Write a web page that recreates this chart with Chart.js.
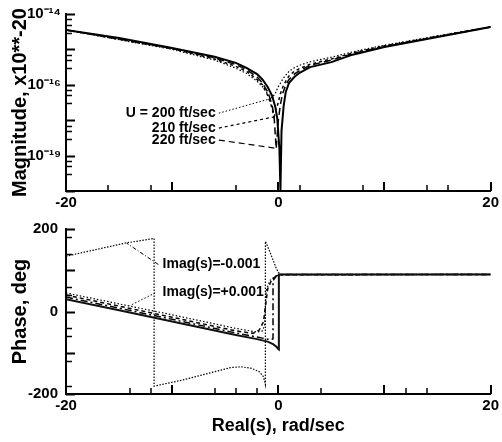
<!DOCTYPE html>
<html><head><meta charset="utf-8">
<script src="https://cdn.jsdelivr.net/npm/chart.js@4.4.1/dist/chart.umd.min.js"></script>
<style>
html,body{margin:0;padding:0;background:#fff;width:502px;height:442px;overflow:hidden}
canvas{position:absolute;left:0}
#c1{top:0}
#c2{top:212px}
</style></head><body>
<canvas id="c1" width="502" height="212"></canvas>
<canvas id="c2" width="502" height="230"></canvas>
<script>
// ---------- Magnitude panel data (Real(s) vs magnitude) ----------
const magSolidX = [-20,-15,-10,-6,-4,-3,-2,-1.5,-1,-0.6,-0.3,-0.1,0.1,0.2,0.3,0.5,0.7,1,1.5,2,3,5,7,10,15,20];
const magSolidY = [3.55e-15,2.09e-15,1.1e-15,6.17e-16,4.17e-16,3.02e-16,2.0e-16,1.41e-16,8.7e-17,5.0e-17,2.5e-17,1.12e-17,1.58e-18,1e-19,5.0e-18,2.5e-17,6.3e-17,1.12e-16,1.66e-16,2.19e-16,3.16e-16,4.37e-16,7.1e-16,1.17e-15,2.24e-15,4.27e-15];
const magU220X = [-20,-10,-6,-4,-3,-2,-1.5,-1,-0.6,-0.4,-0.2,0,0.2,0.4,0.7,1,1.5,2,3,5,7,10,15,20];
const magU220Y = [3.55e-15,1.07e-15,5.75e-16,3.72e-16,2.69e-16,1.66e-16,1.12e-16,6.3e-17,2.82e-17,1.26e-17,1.58e-18,1.0e-17,2.82e-17,5.6e-17,1.0e-16,1.41e-16,2.0e-16,2.51e-16,3.55e-16,5.0e-16,7.6e-16,1.2e-15,2.29e-15,4.27e-15];
const magU210X = [-20,-10,-6,-4,-3,-2,-1.5,-1,-0.7,-0.4,-0.1,0.2,0.5,1,1.5,2,3,5,7,10,15,20];
const magU210Y = [3.55e-15,1.05e-15,5.37e-16,3.31e-16,2.4e-16,1.41e-16,1.0e-16,5.0e-17,2.82e-17,1.26e-17,2.51e-17,5.62e-17,1.0e-16,1.78e-16,2.4e-16,2.88e-16,3.8e-16,5.37e-16,7.94e-16,1.26e-15,2.34e-15,4.37e-15];
const magU200X = [-20,-10,-6,-4,-3,-2,-1.5,-1,-0.6,-0.3,0,0.5,1,1.5,2,3,5,7,10,15,20];
const magU200Y = [3.55e-15,1.0e-15,5.0e-16,2.95e-16,2.09e-16,1.26e-16,8.9e-17,5.6e-17,4.27e-17,5.6e-17,8.9e-17,1.58e-16,2.4e-16,3.02e-16,3.55e-16,4.47e-16,6.03e-16,8.5e-16,1.32e-15,2.4e-15,4.37e-15];

const magLabelText = ["U = 200 ft/sec","210 ft/sec","220 ft/sec"];
const magLabelX = [-5.9,-5.9,-5.9];
const magLabelY = [1.58e-17,6.0e-18,2.75e-18];
const magLeader200X = [-5.6,-0.47], magLeader200Y = [1.58e-17,4.27e-17];
const magLeader210X = [-5.6,-0.28], magLeader210Y = [6.0e-18,1.26e-17];
const magLeader220X = [-5.6,-0.28], magLeader220Y = [2.75e-18,1.62e-18];

const magTickValues = [1e-14,1e-16,1e-18];
const magTickLabels = ["10\u207B\u00B9\u2074","10\u207B\u00B9\u2076","10\u207B\u00B9\u2079"];
const magMajorTicks = [1e-14,1e-15,1e-16,1e-17,1e-18,1e-19];
const magMinorTicks = [7e-15,5e-15,3e-15,7e-16,5e-16,3e-16,7e-17,5e-17,3e-17,7e-18,5e-18,3e-18,7e-19,5e-19,3e-19];

// ---------- Phase panel data ----------
const phSolidX = [-20,-15,-10,-6,-4,-2,-1,-0.5,-0.2,0,0.05,0.05,20];
const phSolidY = [30,3,-24,-46,-57,-67,-73,-79,-85,-91,-92,90,90];
const ph220X = [-20,-10,-4,-2,-1,-0.6,-0.5,-0.5,-0.2,0.2,20];
const ph220Y = [35,-19,-52,-62,-67,-67,-66,75,86,90,90];
const ph210X = [-20,-10,-4,-2.4,-1.8,-1.4,-1.2,-1.0,-0.6,0,20];
const ph210Y = [40,-14,-47,-53,-45,-25,15,55,78,89,90];
const ph200X = [-20,-10,-4,-2,-1.5,-1.3,-1.25,-1.15,-0.8,-0.3,0,20];
const ph200Y = [45,-8,-41,-50,-47,-35,-10,50,75,85,89,90];
const phNegX = [-20,-14.4,-11.7,-11.7,-9,-6,-4.5,-3.5,-2.5,-1.8,-1.4,-1.22,-1.22,-0.8,-0.5,-0.2,0,0.2,20];
const phNegY = [134,166,177,-181,-166,-146,-136,-134,-138,-146,-158,-177,170,145,125,105,95,90,90];

const phLabelText = ["Imag(s)=-0.001","Imag(s)=+0.001"];
const phLabelX = [-10.9,-10.9];
const phLabelY = [114,48];
const phLeaderNegX = [-11.3,-14.3], phLeaderNegY = [114,166];
const phLeaderPosX = [-11.6,-14.0], phLeaderPosY = [45,14];

const phTickValues = [200,0,-200];
const phTickLabels = ["200","0","-200"];
const phMajorTicks = [200,100,0,-100,-200];
const phMinorTicks = [180,140,60,40,-40,-60,-120,-180];

const xTickValues = [-20,0,20];
const xTickLabels = ["-20","0","20"];
const xMajorTicks = [-20,-10,0,10,20];
const xMinorTopTicks = [-16,-12,-4,2,8,14,16];
const xMinorBotTicks = [-14,-12,-6,-4,-2,4,12,14];

// ---------- helpers ----------
const pts = (xs, ys) => xs.map((x, i) => ({x: x, y: ys[i]}));
const FONT = "'Liberation Sans', Arial, sans-serif";

function line(xs, ys, width, dash, color) {
  return {data: pts(xs, ys), borderColor: color || '#000', borderWidth: width,
          borderDash: dash || [], pointRadius: 0, fill: false, tension: 0};
}

const inTicks = {
  id: 'inTicks',
  afterDraw(chart, args, o) {
    const {ctx, chartArea: a, scales: {x, y}} = chart;
    ctx.save();
    ctx.strokeStyle = '#000';
    const draw = (vals, len, w, axis) => {
      ctx.lineWidth = w;
      vals.forEach(v => {
        ctx.beginPath();
        if (axis === 'x') {
          const p = Math.round(x.getPixelForValue(v));
          ctx.moveTo(p, a.bottom); ctx.lineTo(p, a.bottom - len);
        } else {
          const p = Math.round(y.getPixelForValue(v)) + 0.5;
          ctx.moveTo(a.left, p); ctx.lineTo(a.left + len, p);
        }
        ctx.stroke();
      });
    };
    draw(o.xMajor, 9, 2, 'x');
    draw(o.xMinor, 6, 1.5, 'x');
    draw(o.yMajor, 9, 2, 'y');
    draw(o.yMinor, 6, 1.5, 'y');
    ctx.restore();
  }
};

const notes = {
  id: 'notes',
  afterDatasetsDraw(chart, args, o) {
    const {ctx, scales: {x, y}} = chart;
    ctx.save();
    ctx.font = 'bold 14px ' + FONT;
    ctx.fillStyle = '#000';
    ctx.textBaseline = 'middle';
    o.items.forEach(it => {
      ctx.textAlign = it.align;
      ctx.fillText(it.text, x.getPixelForValue(it.x), y.getPixelForValue(it.y));
    });
    ctx.restore();
  }
};

function xScale(height, titleText) {
  return {
    type: 'linear', min: -20, max: 20,
    afterFit: s => { s.height = height; },
    afterBuildTicks: s => { s.ticks = xTickValues.map(v => ({value: v})); },
    grid: {display: false, drawTicks: false},
    border: {display: true, width: 2, color: '#000'},
    ticks: {color: '#000', padding: 3, maxRotation: 0, autoSkip: false,
            font: {family: FONT, size: 15, weight: 'bold'},
            callback: v => xTickLabels[xTickValues.indexOf(v)]},
    title: titleText ? {display: true, text: titleText, color: '#000',
            font: {family: FONT, size: 18, weight: 'bold'}, padding: {top: 0, bottom: 5}} : {display: false}
  };
}

// ---------- Chart 1: magnitude ----------
new Chart(document.getElementById('c1'), {
  type: 'line',
  data: {datasets: [
    line(magSolidX, magSolidY, 2),
    line(magU220X, magU220Y, 1.5, [7, 4]),
    line(magU210X, magU210Y, 1.5, [3, 3]),
    line(magU200X, magU200Y, 1.2, [1.5, 2]),
    line(magLeader200X, magLeader200Y, 1, [1.5, 2]),
    line(magLeader210X, magLeader210Y, 1.2, [3, 3]),
    line(magLeader220X, magLeader220Y, 1.2, [6, 4])
  ]},
  options: {
    responsive: false, animation: false, devicePixelRatio: 1,
    layout: {padding: {left: 0, right: 8, top: 14, bottom: 0}},
    plugins: {legend: {display: false}, tooltip: {enabled: false},
      inTicks: {xMajor: xMajorTicks, xMinor: xMinorTopTicks, yMajor: magMajorTicks, yMinor: magMinorTicks},
      notes: {items: magLabelText.map((t, i) => ({text: t, x: magLabelX[i], y: magLabelY[i], align: 'right'}))}
    },
    scales: {
      x: xScale(21, null),
      y: {
        type: 'logarithmic', min: 1e-19, max: 1e-14,
        afterFit: s => { s.width = 66; },
        afterBuildTicks: s => { s.ticks = magTickValues.map(v => ({value: v})); },
        grid: {display: false, drawTicks: false},
        border: {display: true, width: 2, color: '#000'},
        ticks: {color: '#000', padding: 5, autoSkip: false,
                font: {family: FONT, size: 15, weight: 'bold'},
                callback: v => magTickLabels[magTickValues.indexOf(v)]},
        title: {display: true, text: 'Magnitude, x10**-20', color: '#000',
                font: {family: FONT, size: 20, weight: 'bold'}, padding: {top: 8, bottom: 0}}
      }
    }
  },
  plugins: [inTicks, notes]
});

// ---------- Chart 2: phase ----------
new Chart(document.getElementById('c2'), {
  type: 'line',
  data: {datasets: [
    line(phSolidX, phSolidY, 2, [], '#111'),
    line(ph220X, ph220Y, 1.5, [7, 3, 2, 3]),
    line(ph210X, ph210Y, 1.5, [4, 3]),
    line(ph200X, ph200Y, 1.2, [1.5, 2]),
    line(phNegX, phNegY, 1.2, [1.5, 1.5]),
    line(phLeaderNegX, phLeaderNegY, 1, [4, 2, 1, 2]),
    line(phLeaderPosX, phLeaderPosY, 1, [1.5, 2])
  ]},
  options: {
    responsive: false, animation: false, devicePixelRatio: 1,
    layout: {padding: {left: 0, right: 8, top: 6, bottom: 0}},
    plugins: {legend: {display: false}, tooltip: {enabled: false},
      inTicks: {xMajor: xMajorTicks, xMinor: xMinorBotTicks, yMajor: phMajorTicks, yMinor: phMinorTicks},
      notes: {items: phLabelText.map((t, i) => ({text: t, x: phLabelX[i], y: phLabelY[i], align: 'left'}))}
    },
    scales: {
      x: xScale(48, 'Real(s), rad/sec'),
      y: {
        type: 'linear', min: -200, max: 200,
        afterFit: s => { s.width = 66; },
        afterBuildTicks: s => { s.ticks = phTickValues.map(v => ({value: v})); },
        grid: {display: false, drawTicks: false},
        border: {display: true, width: 2, color: '#000'},
        ticks: {color: '#000', padding: 8, autoSkip: false,
                font: {family: FONT, size: 15, weight: 'bold'},
                callback: v => phTickLabels[phTickValues.indexOf(v)]},
        title: {display: true, text: 'Phase, deg', color: '#000',
                font: {family: FONT, size: 20, weight: 'bold'}, padding: {top: 8, bottom: 0}}
      }
    }
  },
  plugins: [inTicks, notes]
});
</script>
</body></html>
